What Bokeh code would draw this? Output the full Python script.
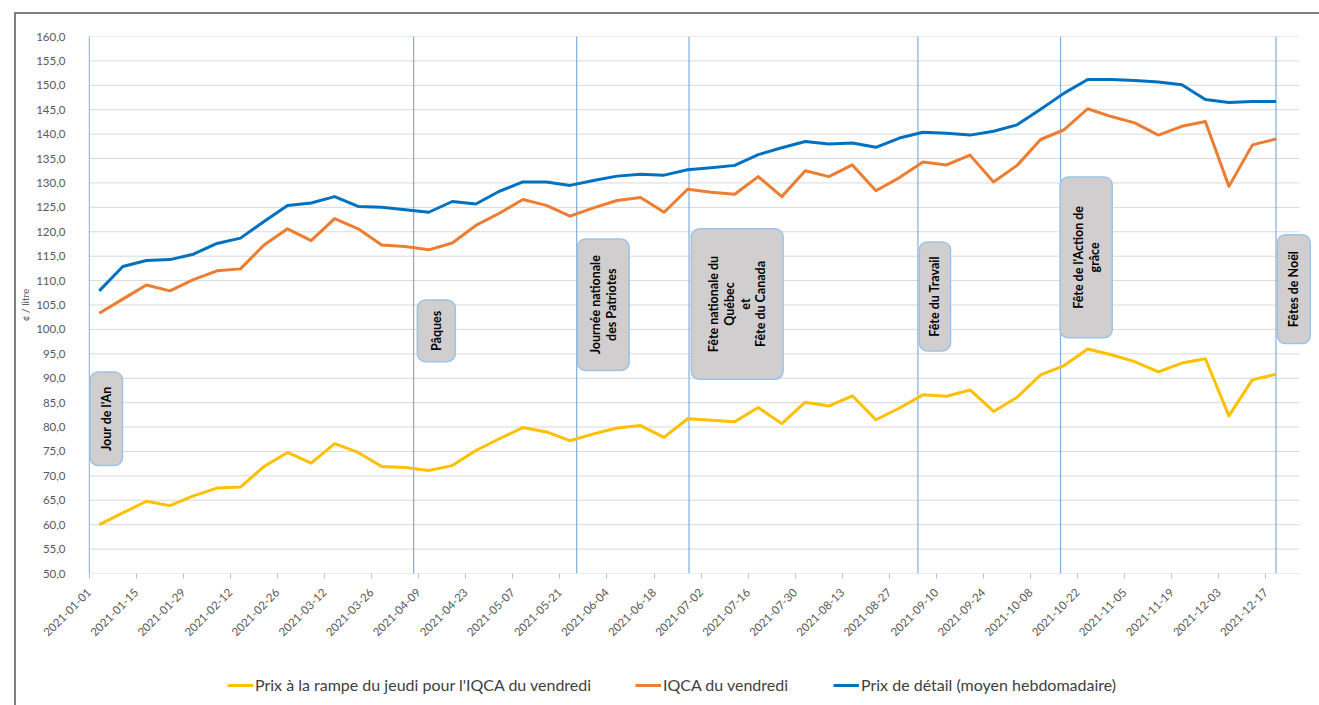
import math
import pandas as pd
from bokeh.plotting import figure
from bokeh.layouts import column
from bokeh.models import (Range1d, FixedTicker, DatetimeTickFormatter, Legend,
                          LegendItem, ColumnDataSource)
from bokeh.core.properties import value
from bokeh.embed import file_html
from bokeh.resources import INLINE

# ---------------- data ----------------
dates = pd.date_range("2021-01-04", periods=51, freq="7D")

rampe = [60.0, 62.4, 64.8, 63.9, 65.9, 67.5, 67.7, 71.9, 74.8, 72.6,
         76.6, 74.8, 71.9, 71.7, 71.1, 72.1, 75.2, 77.6, 79.9, 79.0,
         77.2, 78.6, 79.8, 80.3, 77.9, 81.7, 81.4, 81.1, 84.0, 80.7,
         85.1, 84.3, 86.4, 81.5, 83.9, 86.6, 86.3, 87.6, 83.2, 86.1,
         90.7, 92.6, 96.0, 94.8, 93.4, 91.3, 93.1, 94.0, 82.3, 89.7, 90.8]

iqca = [103.3, 106.2, 109.1, 107.9, 110.2, 112.0, 112.4, 117.3, 120.6, 118.2,
        122.7, 120.6, 117.3, 117.0, 116.3, 117.7, 121.3, 123.8, 126.6, 125.4,
        123.2, 124.9, 126.4, 127.0, 124.0, 128.7, 128.1, 127.7, 131.3, 127.2,
        132.5, 131.3, 133.7, 128.4, 131.1, 134.3, 133.7, 135.7, 130.2, 133.6,
        138.9, 140.9, 145.2, 143.6, 142.3, 139.8, 141.6, 142.6, 129.3, 137.8, 139.0]

detail = [107.9, 112.9, 114.1, 114.3, 115.4, 117.6, 118.7, 122.1, 125.4, 125.9,
          127.2, 125.2, 125.0, 124.5, 124.0, 126.2, 125.7, 128.3, 130.2, 130.2,
          129.5, 130.5, 131.4, 131.8, 131.6, 132.7, 133.1, 133.6, 135.8, 137.2,
          138.5, 138.0, 138.2, 137.3, 139.2, 140.4, 140.2, 139.8, 140.6, 141.9,
          145.1, 148.4, 151.2, 151.2, 151.0, 150.7, 150.1, 147.1, 146.5, 146.7, 146.7]

series_names = ["Prix à la rampe du jeudi pour l'IQCA du vendredi",
                "IQCA du vendredi",
                "Prix de détail (moyen hebdomadaire)"]
series_colors = ["#FFC000", "#ED7D31", "#0070C0"]

tick_dates = pd.date_range("2021-01-01", "2021-12-17", freq="14D")
y_ticks = list(range(50, 161, 5))
y_labels = {t: f"{t:.1f}".replace(".", ",") for t in y_ticks}

# holiday markers (vertical lines) and their labels
event_dates = ["2021-01-01 00:00", "2021-04-07 12:00", "2021-05-26 00:00",
               "2021-06-28 10:00", "2021-09-04 12:00", "2021-10-16 22:00",
               "2021-12-20 00:00"]
event_texts = ["Jour de l'An", "Pâques", "Journée nationale\ndes Patriotes",
               "Fête nationale du\nQuébec\net\nFête du Canada",
               "Fête du Travail", "Fête de l'Action de\ngrâce", "Fêtes de Noël"]
# label boxes: day offsets from 2021-01-01 and value extents
box_left_day = [0.3, 97.6, 145.2, 179.1, 246.9, 288.8, 353.4]
box_right_day = [9.9, 108.9, 160.6, 206.4, 256.2, 304.3, 363.2]
box_top_val = [91.3, 106.0, 118.5, 120.6, 117.9, 131.2, 119.4]
box_bot_val = [72.1, 93.4, 91.6, 89.8, 95.6, 98.3, 97.1]

# ---------------- main figure ----------------
t0 = pd.Timestamp("2021-01-01")
px_per_day = 3.362
W, H1, H2 = 1303, 640, 51
LEFT, TOP = 72, 22
BOTTOM = H1 - 559
x_start = t0 - pd.Timedelta(days=0.7 / px_per_day)
x_end = x_start + pd.Timedelta(days=(W - LEFT) / px_per_day)

p = figure(width=W, height=H1, x_axis_type="datetime",
           output_backend="svg", toolbar_location=None,
           x_range=Range1d(x_start, x_end), y_range=Range1d(50, 160),
           min_border_left=LEFT, min_border_right=0, min_border_top=TOP,
           min_border_bottom=BOTTOM)
p.outline_line_color = None
p.xgrid.visible = False
p.ygrid.visible = False

FONT = "Lato"
TXT = "#595959"

# horizontal gridlines (end at axis max, 2021-12-27)
grid_end = pd.Timestamp("2021-12-27")
p.segment(x0=[t0] * len(y_ticks), x1=[grid_end] * len(y_ticks),
          y0=y_ticks, y1=y_ticks, line_color="#D9D9D9", line_width=1)

# vertical event lines
ev = [pd.Timestamp(d) for d in event_dates]
p.segment(x0=ev, x1=ev, y0=[50] * len(ev), y1=[160] * len(ev),
          line_color="#7FAEDC", line_width=1.2)

# label boxes
bsrc = ColumnDataSource(dict(
    left=[t0 + pd.Timedelta(days=d) for d in box_left_day],
    right=[t0 + pd.Timedelta(days=d) for d in box_right_day],
    top=box_top_val, bottom=box_bot_val,
    xc=[t0 + pd.Timedelta(days=(a + b) / 2) for a, b in zip(box_left_day, box_right_day)],
    yc=[(a + b) / 2 for a, b in zip(box_top_val, box_bot_val)],
    text=event_texts))
p.quad(left="left", right="right", top="top", bottom="bottom", source=bsrc,
       fill_color="#D0CECE", line_color="#9DC3E6", line_width=1.5,
       border_radius=8)
p.text(x="xc", y="yc", text="text", source=bsrc, angle=math.pi / 2,
       text_align="center", text_baseline="middle", text_font=value(FONT),
       text_font_style="bold", text_font_size="12.5px", text_color="#000000",
       text_line_height=1.05)

# data series
for vals, col in zip([rampe, iqca, detail], series_colors):
    p.line(dates, vals, line_color=col, line_width=3, line_join="round")

# axes
p.xaxis.ticker = FixedTicker(ticks=[t.value / 1e6 for t in tick_dates])
fmt = "%Y-%m-%d"
p.xaxis.formatter = DatetimeTickFormatter(
    milliseconds=fmt, seconds=fmt, minsec=fmt, minutes=fmt, hourmin=fmt,
    hours=fmt, days=fmt, months=fmt, years=fmt)
p.xaxis.major_label_orientation = math.pi / 4
p.xaxis.axis_line_color = None
p.xaxis.major_tick_line_color = "#BFBFBF"
p.xaxis.major_tick_out = 5
p.xaxis.major_tick_in = 0
p.xaxis.minor_tick_line_color = None
p.xaxis.major_label_standoff = 12
p.xaxis.major_label_text_font = FONT
p.xaxis.major_label_text_font_size = "11.5px"
p.xaxis.major_label_text_color = TXT

p.yaxis.ticker = FixedTicker(ticks=y_ticks)
p.yaxis.major_label_overrides = y_labels
p.yaxis.axis_line_color = None
p.yaxis.major_tick_line_color = None
p.yaxis.major_tick_out = 0
p.yaxis.major_tick_in = 0
p.yaxis.minor_tick_line_color = None
p.yaxis.major_label_standoff = 23
p.yaxis.major_label_text_font = FONT
p.yaxis.major_label_text_font_size = "11.5px"
p.yaxis.major_label_text_color = TXT
p.yaxis.axis_label = "¢ / litre"
p.yaxis.axis_label_text_font = FONT
p.yaxis.axis_label_text_font_size = "10px"
p.yaxis.axis_label_text_font_style = "normal"
p.yaxis.axis_label_text_color = TXT
p.yaxis.axis_label_standoff = 2

# ---------------- legend strip ----------------
pl = figure(width=W, height=H2, output_backend="svg", toolbar_location=None,
            x_range=Range1d(0, 1), y_range=Range1d(0, 1),
            x_axis_location=None, y_axis_location=None, min_border=0)
pl.outline_line_color = None
pl.grid.visible = False

legend_x = [139, 547, 745]
for name, col, lx in zip(series_names, series_colors, legend_x):
    # legend key line kept outside the strip's visible range
    key = pl.line(x=[5, 6], y=[5, 6], line_color=col, line_width=3)
    lg = Legend(items=[LegendItem(label=name, renderers=[key])],
                location=(lx, 11), orientation="horizontal",
                border_line_color=None, background_fill_alpha=0,
                padding=0, margin=0, glyph_width=26, glyph_height=16,
                label_height=16, label_standoff=2,
                label_text_font=FONT, label_text_font_size="16px",
                label_text_color="#404040")
    pl.add_layout(lg, "center")

layout = column(p, pl, spacing=0,
                styles={"margin-left": "14px", "margin-top": "12px",
                        "border-left": "2px solid #7F7F7F",
                        "border-top": "2px solid #7F7F7F"})

open("out.html", "w").write(file_html(layout, INLINE))
